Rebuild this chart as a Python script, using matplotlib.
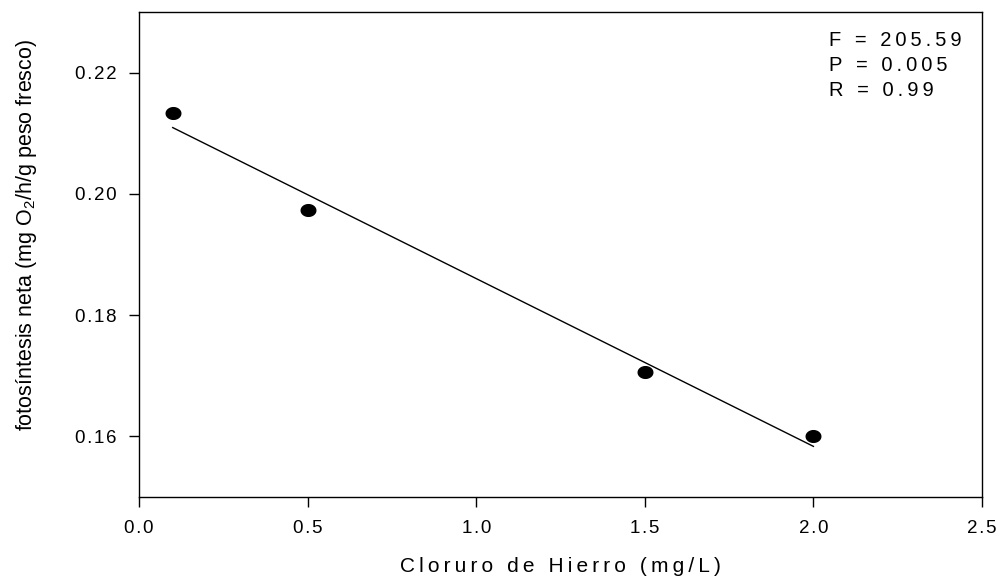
import matplotlib
matplotlib.use('Agg')
import matplotlib.pyplot as plt
from matplotlib.path import Path
import numpy as np

# datos
cloruro = [0.1, 0.5, 1.5, 2.0]
fotosintesis = [0.2133, 0.1974, 0.1706, 0.1600]
stats_text = ['F = 205.59', 'P = 0.005', 'R = 0.99']
x_ticks = [0.0, 0.5, 1.0, 1.5, 2.0, 2.5]
y_ticks = [0.16, 0.18, 0.20, 0.22]

plt.rcParams['font.family'] = ['Liberation Sans', 'DejaVu Sans']
plt.rcParams['mathtext.fontset'] = 'custom'
plt.rcParams['mathtext.rm'] = 'Liberation Sans'
plt.rcParams['mathtext.it'] = 'Liberation Sans:italic'
plt.rcParams['mathtext.bf'] = 'Liberation Sans:bold'

HAIR = '\u200a'
THIN = '\u2009'


def track(s, sep=THIN):
    # espaciado entre letras al estilo SigmaPlot
    return sep.join(s)


fig = plt.figure(figsize=(10, 5.77), dpi=100)
ax = fig.add_axes([0.139, 0.139, 0.843, 0.840])

# regresión lineal
slope, intercept = np.polyfit(cloruro, fotosintesis, 1)
xs = np.array([min(cloruro), max(cloruro)])
ax.plot(xs, slope * xs + intercept, color='black', lw=1.0)

# marcador elíptico (un poco achatado)
t = np.linspace(0, 2 * np.pi, 60)
ellipse = Path(np.column_stack([np.cos(t), 0.8 * np.sin(t)]), closed=True)
ax.plot(cloruro, fotosintesis, linestyle='none', marker=ellipse,
        color='black', ms=10.5, zorder=3)

ax.set_xlim(0, 2.5)
ax.set_ylim(0.15, 0.23)
ax.set_xticks(x_ticks)
ax.set_xticklabels([track(f'{v:.1f}', HAIR) for v in x_ticks])
ax.set_yticks(y_ticks)
ax.set_yticklabels([track(f'{v:.2f}', HAIR) for v in y_ticks])
ax.tick_params(direction='out', length=7, width=1, labelsize=13.5,
               top=False, right=False)
ax.tick_params(axis='x', pad=10)
ax.tick_params(axis='y', pad=9)
for s in ax.spines.values():
    s.set_linewidth(1.0)

ax.set_xlabel(track('Cloruro de Hierro (mg/L)'), fontsize=15, labelpad=14)
ax.set_ylabel(r'fotosíntesis neta (mg O$_\mathrm{2}$/h/g peso fresco)',
              fontsize=15.5)
ax.yaxis.set_label_coords(-0.119, 0.54)

ax.text(0.818, 0.962, '\n'.join(track(s) for s in stats_text),
        transform=ax.transAxes, fontsize=14.5, va='top', ha='left',
        linespacing=1.42)

plt.savefig('out.png', dpi=100)
